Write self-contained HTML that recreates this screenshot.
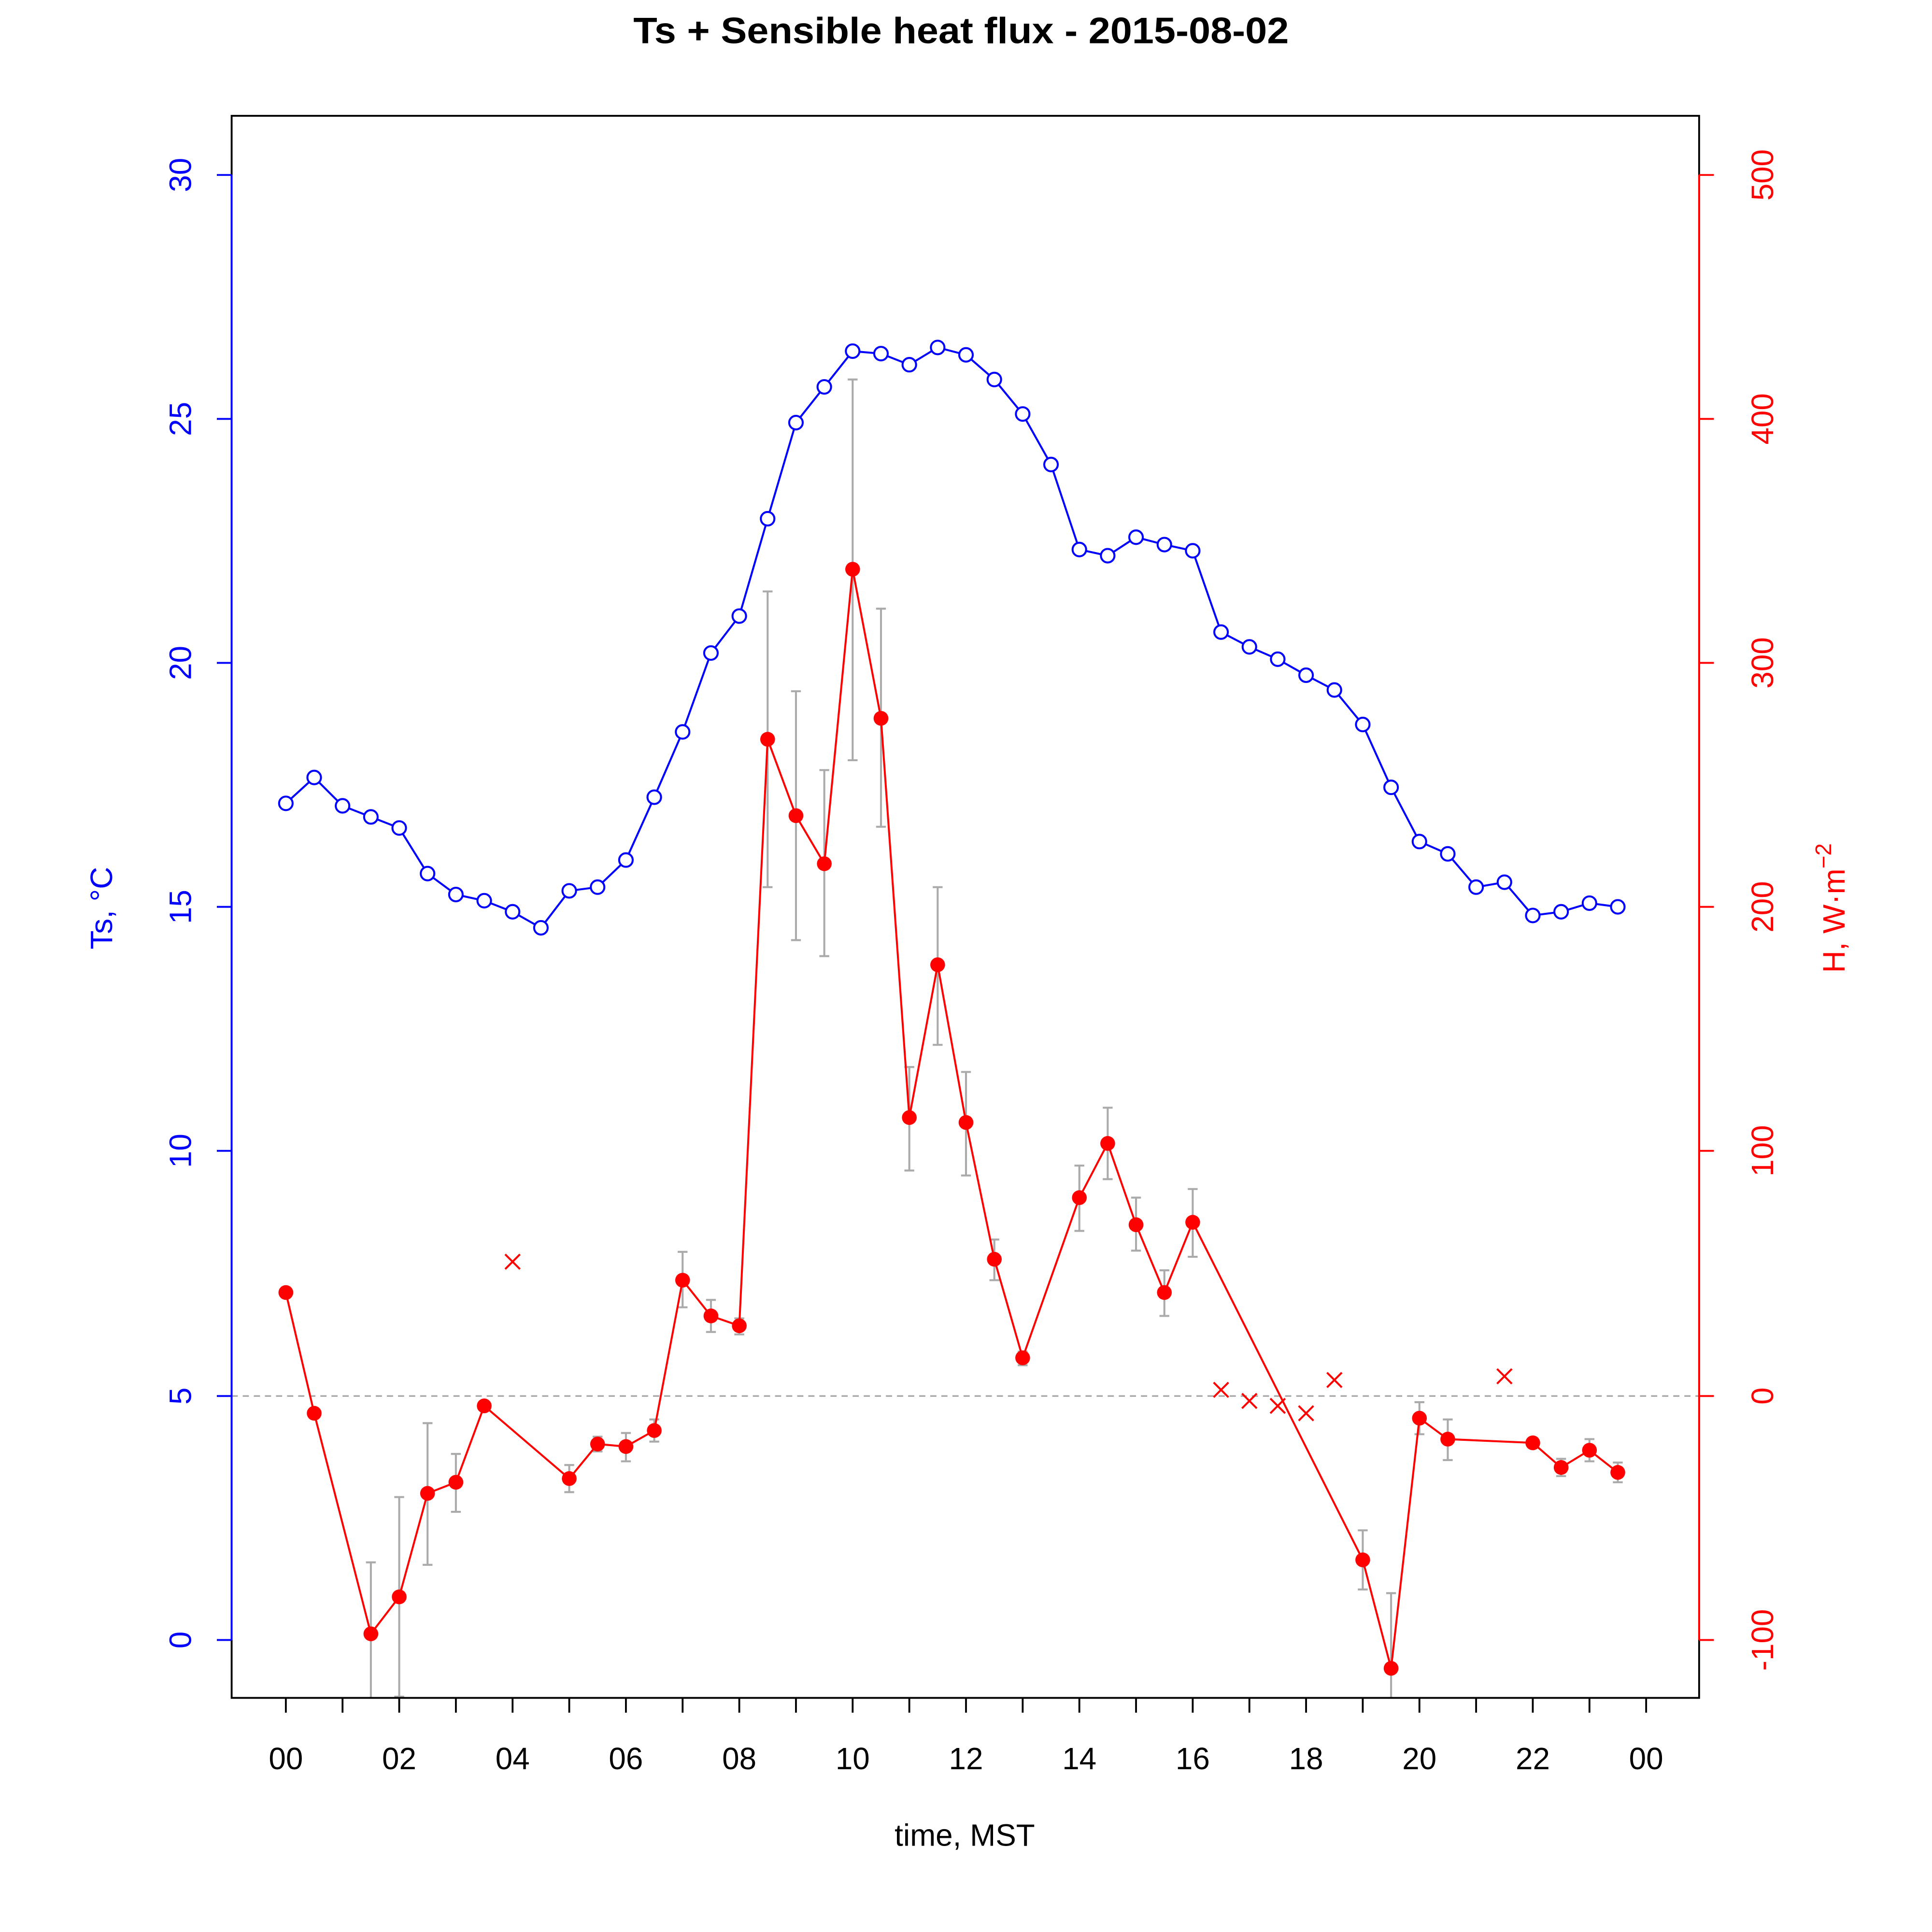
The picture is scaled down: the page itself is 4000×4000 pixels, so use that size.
<!DOCTYPE html>
<html><head><meta charset="utf-8"><style>html,body{margin:0;padding:0;background:#fff}svg{display:block}</style></head><body>
<svg width="4000" height="4000" viewBox="0 0 1568 1568" xmlns="http://www.w3.org/2000/svg" font-family="Liberation Sans, Arial, sans-serif">
<rect width="1568" height="1568" fill="#fff"/>
<text x="780" y="35" text-anchor="middle" font-size="30" font-weight="bold" textLength="532" lengthAdjust="spacingAndGlyphs">Ts + Sensible heat flux -  2015-08-02</text>
<line x1="188" y1="1133" x2="1379" y2="1133" stroke="#aaa" stroke-width="1.3" stroke-dasharray="5,4"/>
<g stroke="#aaa" stroke-width="1.6" fill="none">
<path d="M301 1268V1378M297 1268h8 M324 1215V1378M320 1215h8M320 1377h8 M347 1155V1270M343 1155h8M343 1270h8 M370 1180V1227M366 1180h8M366 1227h8
M462 1189V1211M458 1189h8M458 1211h8 M485 1166V1178M481 1166h8M481 1178h8 M508 1163V1186M504 1163h8M504 1186h8 M531 1152V1170M527 1152h8M527 1170h8
M554 1016V1061M550 1016h8M550 1061h8 M577 1055V1081M573 1055h8M573 1081h8 M600 1070V1083M596 1070h8M596 1083h8
M623 480V720M619 480h8M619 720h8 M646 561V763M642 561h8M642 763h8 M669 625V776M665 625h8M665 776h8 M692 308V617M688 308h8M688 617h8 M715 494V671M711 494h8M711 671h8
M738 866V950M734 866h8M734 950h8 M761 720V848M757 720h8M757 848h8 M784 870V954M780 870h8M780 954h8 M807 1006V1039M803 1006h8M803 1039h8 M830 1097V1108M826 1097h8M826 1108h8
M876 946V999M872 946h8M872 999h8 M899 899V957M895 899h8M895 957h8 M922 972V1015M918 972h8M918 1015h8 M945 1031V1068M941 1031h8M941 1068h8 M968 965V1020M964 965h8M964 1020h8
M1106 1242V1290M1102 1242h8M1102 1290h8 M1129 1293V1378M1125 1293h8 M1152 1138V1164M1148 1138h8M1148 1164h8 M1175 1152V1185M1171 1152h8M1171 1185h8
M1267 1184V1198M1263 1184h8M1263 1198h8 M1290 1168V1186M1286 1168h8M1286 1186h8 M1313 1187V1203M1309 1187h8M1309 1203h8"/>
</g>
<polyline fill="none" stroke="#00f" stroke-width="1.6" points="232,652 255,631 278,654 301,663 324,672 347,709 370,726 393,731 416,740 439,753 462,723 485,720 508,698 531,647 554,594 577,530 600,500 623,421 646,343 669,314 692,285 715,287 738,296 761,282 784,288 807,308 830,336 853,377 876,446 899,451 922,436 945,442 968,447 991,513 1014,525 1037,535 1060,548 1083,560 1106,588 1129,639 1152,683 1175,693 1198,720 1221,716 1244,743 1267,740 1290,733 1313,736"/>
<g fill="#fff" stroke="#00f" stroke-width="1.6">
<circle cx="232" cy="652" r="5.5"/><circle cx="255" cy="631" r="5.5"/><circle cx="278" cy="654" r="5.5"/><circle cx="301" cy="663" r="5.5"/><circle cx="324" cy="672" r="5.5"/><circle cx="347" cy="709" r="5.5"/><circle cx="370" cy="726" r="5.5"/><circle cx="393" cy="731" r="5.5"/><circle cx="416" cy="740" r="5.5"/><circle cx="439" cy="753" r="5.5"/><circle cx="462" cy="723" r="5.5"/><circle cx="485" cy="720" r="5.5"/><circle cx="508" cy="698" r="5.5"/><circle cx="531" cy="647" r="5.5"/><circle cx="554" cy="594" r="5.5"/><circle cx="577" cy="530" r="5.5"/><circle cx="600" cy="500" r="5.5"/><circle cx="623" cy="421" r="5.5"/><circle cx="646" cy="343" r="5.5"/><circle cx="669" cy="314" r="5.5"/><circle cx="692" cy="285" r="5.5"/><circle cx="715" cy="287" r="5.5"/><circle cx="738" cy="296" r="5.5"/><circle cx="761" cy="282" r="5.5"/><circle cx="784" cy="288" r="5.5"/><circle cx="807" cy="308" r="5.5"/><circle cx="830" cy="336" r="5.5"/><circle cx="853" cy="377" r="5.5"/><circle cx="876" cy="446" r="5.5"/><circle cx="899" cy="451" r="5.5"/><circle cx="922" cy="436" r="5.5"/><circle cx="945" cy="442" r="5.5"/><circle cx="968" cy="447" r="5.5"/><circle cx="991" cy="513" r="5.5"/><circle cx="1014" cy="525" r="5.5"/><circle cx="1037" cy="535" r="5.5"/><circle cx="1060" cy="548" r="5.5"/><circle cx="1083" cy="560" r="5.5"/><circle cx="1106" cy="588" r="5.5"/><circle cx="1129" cy="639" r="5.5"/><circle cx="1152" cy="683" r="5.5"/><circle cx="1175" cy="693" r="5.5"/><circle cx="1198" cy="720" r="5.5"/><circle cx="1221" cy="716" r="5.5"/><circle cx="1244" cy="743" r="5.5"/><circle cx="1267" cy="740" r="5.5"/><circle cx="1290" cy="733" r="5.5"/><circle cx="1313" cy="736" r="5.5"/>
</g>
<polyline fill="none" stroke="#f00" stroke-width="1.6" points="232,1049 255,1147 301,1326 324,1296 347,1212 370,1203 393,1141 462,1200 485,1172 508,1174 531,1161 554,1039 577,1068 600,1076 623,600 646,662 669,701 692,462 715,583 738,907 761,783 784,911 807,1022 830,1102 876,972 899,928 922,994 945,1049 968,992 1106,1266 1129,1354 1152,1151 1175,1168 1244,1171 1267,1191 1290,1177 1313,1195"/>
<g fill="#f00">
<circle cx="232" cy="1049" r="6"/><circle cx="255" cy="1147" r="6"/><circle cx="301" cy="1326" r="6"/><circle cx="324" cy="1296" r="6"/><circle cx="347" cy="1212" r="6"/><circle cx="370" cy="1203" r="6"/><circle cx="393" cy="1141" r="6"/><circle cx="462" cy="1200" r="6"/><circle cx="485" cy="1172" r="6"/><circle cx="508" cy="1174" r="6"/><circle cx="531" cy="1161" r="6"/><circle cx="554" cy="1039" r="6"/><circle cx="577" cy="1068" r="6"/><circle cx="600" cy="1076" r="6"/><circle cx="623" cy="600" r="6"/><circle cx="646" cy="662" r="6"/><circle cx="669" cy="701" r="6"/><circle cx="692" cy="462" r="6"/><circle cx="715" cy="583" r="6"/><circle cx="738" cy="907" r="6"/><circle cx="761" cy="783" r="6"/><circle cx="784" cy="911" r="6"/><circle cx="807" cy="1022" r="6"/><circle cx="830" cy="1102" r="6"/><circle cx="876" cy="972" r="6"/><circle cx="899" cy="928" r="6"/><circle cx="922" cy="994" r="6"/><circle cx="945" cy="1049" r="6"/><circle cx="968" cy="992" r="6"/><circle cx="1106" cy="1266" r="6"/><circle cx="1129" cy="1354" r="6"/><circle cx="1152" cy="1151" r="6"/><circle cx="1175" cy="1168" r="6"/><circle cx="1244" cy="1171" r="6"/><circle cx="1267" cy="1191" r="6"/><circle cx="1290" cy="1177" r="6"/><circle cx="1313" cy="1195" r="6"/>
</g>
<g stroke="#f00" stroke-width="1.6">
<path d="M410 1018l12 12M422 1018l-12 12 M985 1122l12 12M997 1122l-12 12 M1008 1131l12 12M1020 1131l-12 12 M1031 1135l12 12M1043 1135l-12 12 M1054 1141l12 12M1066 1141l-12 12 M1077 1114l12 12M1089 1114l-12 12 M1215 1111l12 12M1227 1111l-12 12"/>
</g>
<rect x="188" y="94" width="1191" height="1284" fill="none" stroke="#000" stroke-width="1.5"/>
<g stroke="#00f" stroke-width="1.5"><path d="M188 142V1331 M176 1331h12M176 1133h12M176 934h12M176 736h12M176 538h12M176 340h12M176 142h12"/></g>
<g fill="#00f" font-size="25" text-anchor="middle">
<text transform="translate(155,1331) rotate(-90)">0</text>
<text transform="translate(155,1133) rotate(-90)">5</text>
<text transform="translate(155,934) rotate(-90)">10</text>
<text transform="translate(155,736) rotate(-90)">15</text>
<text transform="translate(155,538) rotate(-90)">20</text>
<text transform="translate(155,340) rotate(-90)">25</text>
<text transform="translate(155,142) rotate(-90)">30</text>
<text transform="translate(91,737) rotate(-90)">Ts, °C</text>
</g>
<g stroke="#f00" stroke-width="1.5"><path d="M1379 142V1331 M1379 1331h12M1379 1133h12M1379 934h12M1379 736h12M1379 538h12M1379 340h12M1379 142h12"/></g>
<g fill="#f00" font-size="25" text-anchor="middle">
<text transform="translate(1439,1331) rotate(-90)">-100</text>
<text transform="translate(1439,1133) rotate(-90)">0</text>
<text transform="translate(1439,934) rotate(-90)">100</text>
<text transform="translate(1439,736) rotate(-90)">200</text>
<text transform="translate(1439,538) rotate(-90)">300</text>
<text transform="translate(1439,340) rotate(-90)">400</text>
<text transform="translate(1439,142) rotate(-90)">500</text>
<text transform="translate(1497,737) rotate(-90)">H, W·m<tspan font-size="18" dy="-11">−2</tspan></text>
</g>
<g stroke="#000" stroke-width="1.5"><path d="M232 1378v12M278 1378v12M324 1378v12M370 1378v12M416 1378v12M462 1378v12M508 1378v12M554 1378v12M600 1378v12M646 1378v12M692 1378v12M738 1378v12M784 1378v12M830 1378v12M876 1378v12M922 1378v12M968 1378v12M1014 1378v12M1060 1378v12M1106 1378v12M1152 1378v12M1198 1378v12M1244 1378v12M1290 1378v12M1336 1378v12"/></g>
<g fill="#000" font-size="25" text-anchor="middle">
<text x="232" y="1436">00</text><text x="324" y="1436">02</text><text x="416" y="1436">04</text><text x="508" y="1436">06</text><text x="600" y="1436">08</text><text x="692" y="1436">10</text><text x="784" y="1436">12</text><text x="876" y="1436">14</text><text x="968" y="1436">16</text><text x="1060" y="1436">18</text><text x="1152" y="1436">20</text><text x="1244" y="1436">22</text><text x="1336" y="1436">00</text>
<text x="783" y="1498">time, MST</text>
</g>
</svg>
</body></html>
